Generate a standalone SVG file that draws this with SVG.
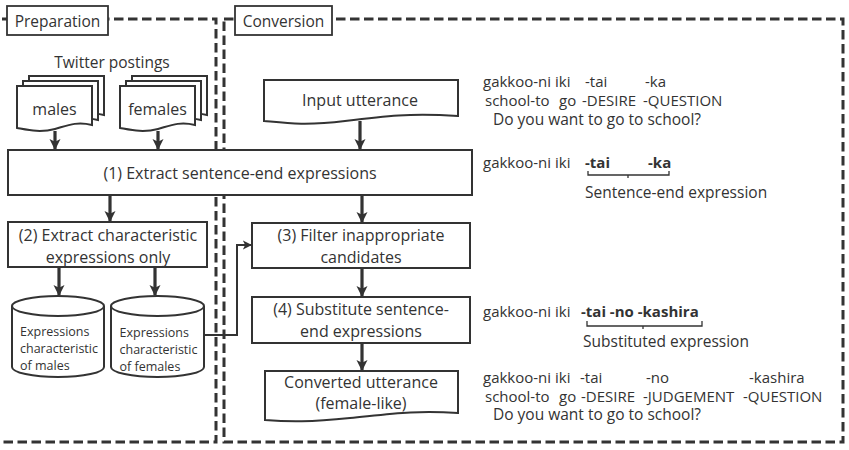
<svg xmlns="http://www.w3.org/2000/svg" width="849" height="450" viewBox="0 0 849 450">
<style>
text{font-family:"Open Sans","Liberation Sans",sans-serif;fill:#333}
.n{fill:#fff;stroke:#333;stroke-width:2}
.dash{fill:none;stroke:#333;stroke-width:3;stroke-dasharray:9.5 4.5}
.lbl{fill:#fff;stroke:#333;stroke-width:1.8}
.t16{font-size:16px;text-anchor:middle}
.t15{font-size:15px}
.c{font-size:12.5px}
.ar{fill:none;stroke:#333;stroke-width:3.2}
.ln{fill:none;stroke:#333;stroke-width:2}
.br{fill:none;stroke:#333;stroke-width:1.3}
.b{font-weight:bold}
</style>
<defs>
<marker id="ah" viewBox="0 0 10 10" refX="9" refY="5" markerUnits="userSpaceOnUse" markerWidth="11" markerHeight="14" orient="auto">
<path d="M0,0 L10,5 L0,10 L2.5,5 z" fill="#333"/>
</marker>
<marker id="ah2" viewBox="0 0 10 10" refX="9" refY="5" markerUnits="userSpaceOnUse" markerWidth="9" markerHeight="10" orient="auto">
<path d="M0,0 L10,5 L0,10 L2.5,5 z" fill="#333"/>
</marker>
</defs>

<g id="preparation-frame">
<path class="dash" d="M2,19 H216 V442 H0"/>
<rect class="lbl" x="7" y="6" width="101" height="29"/>
<text x="57.5" y="26.5" style="font-size:15.5px;text-anchor:middle">Preparation</text>
</g>
<g id="conversion-frame">
<rect class="dash" x="224" y="19" width="619" height="423"/>
<rect class="lbl" x="235" y="6" width="97" height="29"/>
<text x="283.5" y="26.5" style="font-size:15.5px;text-anchor:middle">Conversion</text>
</g>

<g id="twitter">
<text x="112" y="67.5" style="font-size:15.5px;text-anchor:middle">Twitter postings</text>
</g>
<g id="males-doc">
<path class="n" d="M29,76 H104 V115 C88,111 78,116 67,119 C52,123 40,120 29,118 Z"/>
<path class="n" d="M23,81 H98 V120 C82,116 72,121 61,124 C46,128 34,125 23,123 Z"/>
<path class="n" d="M17,86 H92 V125 C76,121 66,126 55,129 C40,133 28,130 17,128 Z"/>
<text x="54.5" y="115" class="t16">males</text>
</g>
<g id="females-doc">
<path class="n" d="M132,76 H207 V115 C191,111 181,116 170,119 C155,123 143,120 132,118 Z"/>
<path class="n" d="M126,81 H201 V120 C185,116 175,121 164,124 C149,128 137,125 126,123 Z"/>
<path class="n" d="M120,86 H195 V125 C179,121 169,126 158,129 C143,133 131,130 120,128 Z"/>
<text x="157.5" y="115" class="t16">females</text>
</g>

<g id="input-utterance">
<path class="n" d="M264,80 H458 V116 C410,113 385,116 345,121 C305,126 285,123 264,121 Z"/>
<text x="360" y="105.5" class="t16">Input utterance</text>
</g>

<g id="step1">
<rect class="n" x="8" y="150" width="464" height="45"/>
<text x="240" y="178.5" class="t16">(1) Extract sentence-end expressions</text>
</g>

<g id="step2">
<rect class="n" x="8" y="222" width="199" height="45"/>
<text x="108" y="240.5" class="t16">(2) Extract characteristic</text>
<text x="108" y="262.5" class="t16">expressions only</text>
</g>

<g id="db-males">
<path class="n" d="M12,306 V367 A46,10 0 0 0 104,367 V306"/>
<ellipse class="n" cx="58" cy="306" rx="46" ry="10"/>
<text x="20" y="335.5" class="c">Expressions</text>
<text x="20" y="352.5" class="c">characteristic</text>
<text x="20" y="369.5" class="c">of males</text>
</g>
<g id="db-females">
<path class="n" d="M111,306 V367 A46.5,10 0 0 0 204,367 V306"/>
<ellipse class="n" cx="157.5" cy="306" rx="46.5" ry="10"/>
<text x="119.5" y="336.5" class="c">Expressions</text>
<text x="119.5" y="353.5" class="c">characteristic</text>
<text x="119.5" y="370.5" class="c">of females</text>
</g>

<g id="step3">
<rect class="n" x="252" y="223" width="218" height="45"/>
<text x="361" y="240.5" class="t16">(3) Filter inappropriate</text>
<text x="361" y="262.5" class="t16">candidates</text>
</g>

<g id="step4">
<rect class="n" x="252" y="297" width="218" height="46"/>
<text x="361" y="314.5" class="t16">(4) Substitute sentence-</text>
<text x="361" y="336.5" class="t16">end expressions</text>
</g>

<g id="converted-utterance">
<path class="n" d="M265,371 H458 V413 C415,410 390,414 350,418 C310,422 290,422 265,420 Z"/>
<text x="361" y="387.5" class="t16">Converted utterance</text>
<text x="361" y="408.5" class="t16">(female-like)</text>
</g>

<g id="connectors">
<line class="ar" x1="55" y1="131" x2="55" y2="149" marker-end="url(#ah)"/>
<line class="ar" x1="158" y1="131" x2="158" y2="149" marker-end="url(#ah)"/>
<line class="ar" x1="360" y1="121" x2="360" y2="149" marker-end="url(#ah)"/>
<line class="ar" x1="110" y1="195" x2="110" y2="221" marker-end="url(#ah)"/>
<line class="ar" x1="59" y1="267" x2="59" y2="295" marker-end="url(#ah)"/>
<line class="ar" x1="155" y1="267" x2="155" y2="295" marker-end="url(#ah)"/>
<line class="ar" x1="362" y1="195" x2="362" y2="222" marker-end="url(#ah)"/>
<line class="ar" x1="362" y1="268" x2="362" y2="296" marker-end="url(#ah)"/>
<line class="ar" x1="362" y1="343" x2="362" y2="370" marker-end="url(#ah)"/>
<polyline class="ln" points="204,335 237,335 237,245 251,245" marker-end="url(#ah2)"/>
</g>

<g id="example-input">
<text class="t15" y="87"><tspan x="483">gakkoo-ni iki</tspan><tspan x="585">-tai</tspan><tspan x="645">-ka</tspan></text>
<text class="t15" y="106"><tspan x="485">school-to</tspan><tspan x="559">go</tspan><tspan x="582">-DESIRE</tspan><tspan x="643">-QUESTION</tspan></text>
<text class="t15" x="493" y="125" style="font-size:15.5px">Do you want to go to school?</text>
</g>

<g id="example-extract">
<text class="t15" y="168"><tspan x="483">gakkoo-ni iki</tspan><tspan x="585" class="b">-tai</tspan><tspan x="648" class="b">-ka</tspan></text>
<path class="br" d="M588,171 V175 H669 V171 M628,175 V178"/>
<text class="t15" x="585" y="198" style="font-size:15.5px">Sentence-end expression</text>
</g>

<g id="example-substitute">
<text class="t15" y="317"><tspan x="483">gakkoo-ni iki</tspan><tspan x="581" class="b">-tai -no -kashira</tspan></text>
<path class="br" d="M587,321 V326 H702 V321 M643,326 V329"/>
<text class="t15" x="583" y="347" style="font-size:15.5px">Substituted expression</text>
</g>

<g id="example-output">
<text class="t15" y="383"><tspan x="483">gakkoo-ni iki</tspan><tspan x="580">-tai</tspan><tspan x="646">-no</tspan><tspan x="749">-kashira</tspan></text>
<text class="t15" y="402"><tspan x="485">school-to</tspan><tspan x="559">go</tspan><tspan x="581">-DESIRE</tspan><tspan x="643">-JUDGEMENT</tspan><tspan x="743">-QUESTION</tspan></text>
<text class="t15" x="493" y="420" style="font-size:15.5px">Do you want to go to school?</text>
</g>
</svg>
